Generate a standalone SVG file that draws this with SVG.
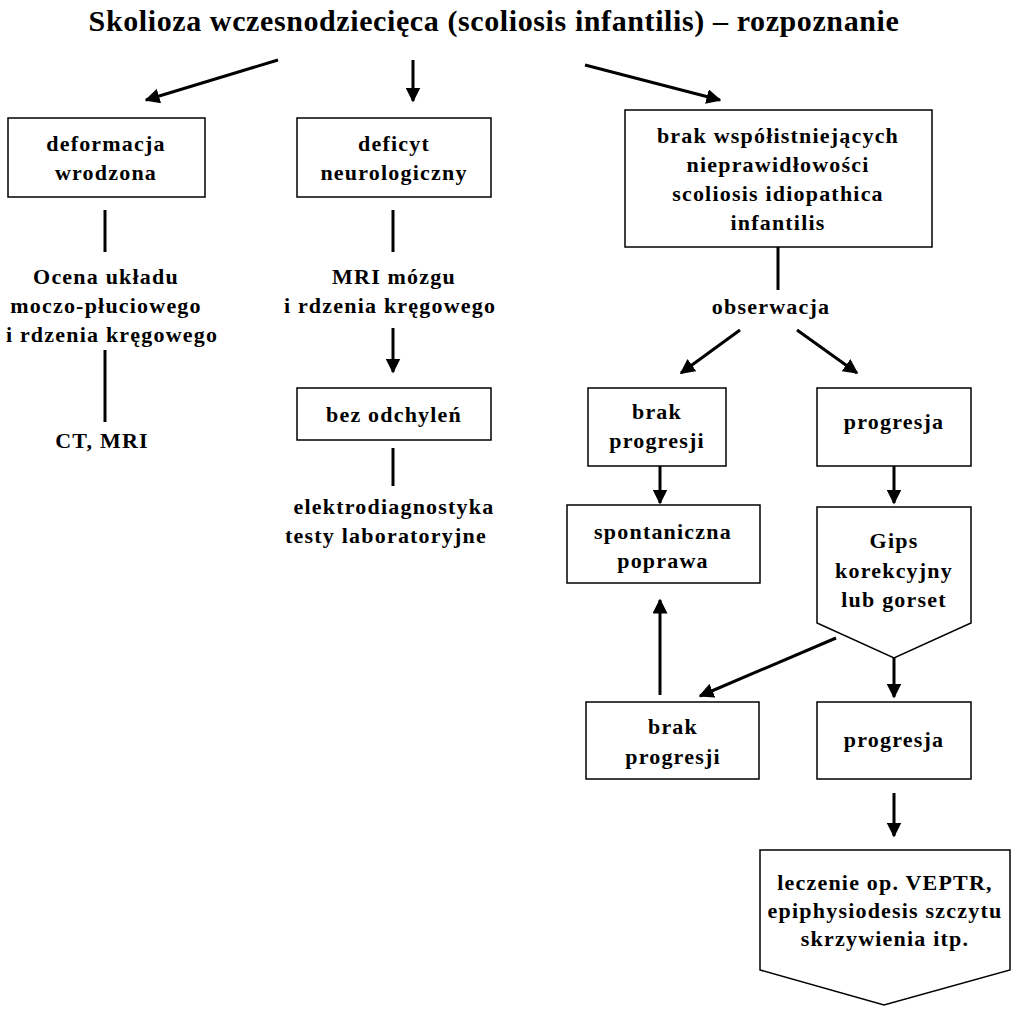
<svg xmlns="http://www.w3.org/2000/svg" width="1024" height="1010" viewBox="0 0 1024 1010">
<defs><marker id="a" viewBox="0 0 10 10" refX="9" refY="5" markerWidth="5" markerHeight="5" orient="auto"><path d="M0,0L10,5L0,10z" fill="#000"/></marker></defs>
<style>
.b{fill:#fff;stroke:#000;stroke-width:1.5}
text{font-family:"Liberation Serif",serif;font-weight:bold;font-size:22px;letter-spacing:1.2px;text-anchor:middle;fill:#000}
.c line{stroke:#000;stroke-width:3}
</style>
<rect width="1024" height="1010" fill="#fff"/>
<text x="494" y="31" style="font-size:30px;letter-spacing:0.6px">Skolioza wczesnodziecięca (scoliosis infantilis) – rozpoznanie</text>
<g id="n1"><rect class="b" x="8" y="118" width="197" height="79"/><text x="106" y="151">deformacja</text><text x="106" y="180">wrodzona</text></g>
<g id="n2"><rect class="b" x="297" y="118" width="194" height="79"/><text x="394" y="151">deficyt</text><text x="394" y="180">neurologiczny</text></g>
<g id="n3"><rect class="b" x="625" y="110" width="307" height="137"/><text x="778" y="143">brak współistniejących</text><text x="778" y="172">nieprawidłowości</text><text x="778" y="201">scoliosis idiopathica</text><text x="778" y="230">infantilis</text></g>
<g id="t1"><text x="106" y="284">Ocena układu</text><text x="106" y="313">moczo-płuciowego</text><text x="112" y="342">i rdzenia kręgowego</text></g>
<g id="t2"><text x="102" y="448">CT, MRI</text></g>
<g id="t3"><text x="394" y="284">MRI mózgu</text><text x="390" y="313">i rdzenia kręgowego</text></g>
<g id="n4"><rect class="b" x="297" y="388" width="194" height="52"/><text x="394" y="422">bez odchyleń</text></g>
<g id="t4"><text x="394" y="514">elektrodiagnostyka</text><text x="386" y="543">testy laboratoryjne</text></g>
<g id="t5"><text x="771" y="314">obserwacja</text></g>
<g id="n5"><rect class="b" x="588" y="388" width="138" height="78"/><text x="657" y="419">brak</text><text x="657" y="448">progresji</text></g>
<g id="n6"><rect class="b" x="817" y="388" width="154" height="78"/><text x="894" y="429">progresja</text></g>
<g id="n7"><rect class="b" x="567" y="505" width="193" height="78"/><text x="663" y="539">spontaniczna</text><text x="663" y="568">poprawa</text></g>
<g id="n8"><path class="b" d="M817,507H971V623L894,658L817,623Z"/><text x="894" y="548">Gips</text><text x="894" y="578">korekcyjny</text><text x="894" y="607">lub gorset</text></g>
<g id="n9"><rect class="b" x="586" y="702" width="173" height="77"/><text x="673" y="734">brak</text><text x="673" y="764">progresji</text></g>
<g id="n10"><rect class="b" x="817" y="702" width="154" height="77"/><text x="894" y="747">progresja</text></g>
<g id="n11"><path class="b" d="M760,850H1010V970L884,1005L760,970Z"/><text x="885" y="890">leczenie op. VEPTR,</text><text x="885" y="918">epiphysiodesis szczytu</text><text x="885" y="946">skrzywienia itp.</text></g>
<g class="c">
<line x1="278" y1="60" x2="146" y2="100" marker-end="url(#a)"/>
<line x1="413" y1="60" x2="413" y2="101" marker-end="url(#a)"/>
<line x1="585" y1="65" x2="720" y2="100" marker-end="url(#a)"/>
<line x1="105" y1="210" x2="105" y2="252"/>
<line x1="105" y1="350" x2="105" y2="422"/>
<line x1="393" y1="210" x2="393" y2="252"/>
<line x1="393" y1="328" x2="393" y2="372" marker-end="url(#a)"/>
<line x1="393" y1="448" x2="393" y2="486"/>
<line x1="778" y1="247" x2="778" y2="290"/>
<line x1="740" y1="330" x2="681" y2="373" marker-end="url(#a)"/>
<line x1="797" y1="330" x2="857" y2="373" marker-end="url(#a)"/>
<line x1="660" y1="466" x2="660" y2="503" marker-end="url(#a)"/>
<line x1="894" y1="466" x2="894" y2="503" marker-end="url(#a)"/>
<line x1="660" y1="695" x2="660" y2="600" marker-end="url(#a)"/>
<line x1="836" y1="638" x2="700" y2="696" marker-end="url(#a)"/>
<line x1="894" y1="658" x2="894" y2="697" marker-end="url(#a)"/>
<line x1="894" y1="793" x2="894" y2="836" marker-end="url(#a)"/>
</g>
</svg>
